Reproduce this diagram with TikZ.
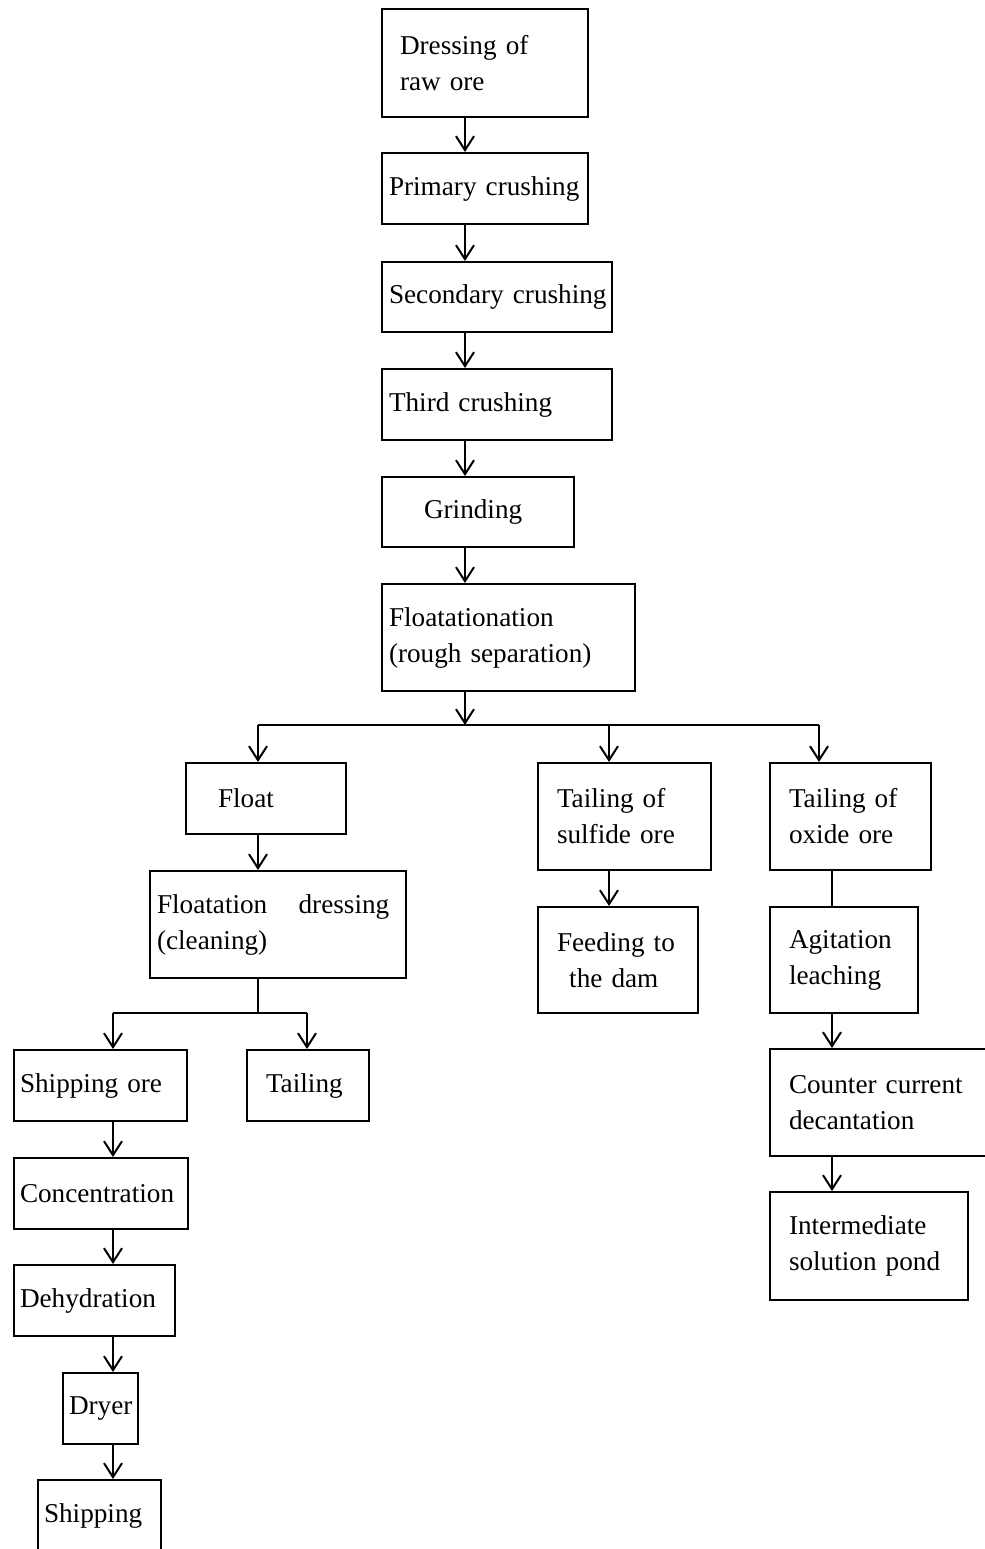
\documentclass[tikz,border=0pt]{standalone}
\usepackage{fontspec}
\setmainfont{Liberation Serif}
\usetikzlibrary{arrows.meta}
% process box: name, x0, y0, x1, y1, left padding, text
\newcommand\procbox[7]{%
  \pgfmathsetmacro\bxw{(#4-#2)*0.5}%
  \pgfmathsetmacro\bxh{(#5-#3)*0.5}%
  \pgfmathsetmacro\bxp{#6*0.5}%
  \pgfmathsetmacro\bxt{(#4-#2-2*#6)*0.5}%
  \node[box, minimum width=\bxw pt, minimum height=\bxh pt,
        inner xsep=\bxp pt, text width=\bxt pt] (#1) at (#2,#3) {#7};%
}
\begin{document}
\begin{tikzpicture}[x=0.5pt,y=-0.5pt,
  box/.style={draw, line width=1pt, rectangle, inner ysep=0pt, anchor=north west,
              font={\fontsize{13.6}{18}\selectfont\hyphenpenalty=10000\hbadness=10000\hfuzz=20pt},
              align=left},
  link/.style={line width=1pt},
  arr/.style={link, -{Straight Barb[length=7pt,width=9pt]}}]
\useasboundingbox (0,0) rectangle (985,1549);

% main line
\procbox{dress}{381}{8}{587}{116}{18}{Dressing of\\raw ore}
\procbox{prim}{381}{152}{587}{223}{7}{Primary~crushing}
\procbox{sec}{381}{261}{611}{331}{7}{Secondary~crushing}
\procbox{third}{381}{368}{611}{439}{7}{Third~crushing}
\procbox{grind}{381}{476}{573}{546}{42}{Grinding}
\procbox{rough}{381}{583}{634}{690}{7}{Floatationation\\(rough~separation)}

% float branch
\procbox{float}{185}{762}{345}{833}{32}{Float}
\procbox{clean}{149}{870}{405}{977}{7}{Floatation\hspace{1.15em}dressing\\(cleaning)}
\procbox{shipore}{13}{1049}{186}{1120}{6}{Shipping~ore}
\procbox{tailing}{246}{1049}{368}{1120}{19}{Tailing}
\procbox{conc}{13}{1157}{187}{1228}{6}{Concentration}
\procbox{dehyd}{13}{1264}{174}{1335}{6}{Dehydration}
\procbox{dryer}{62}{1372}{137}{1443}{6}{Dryer}
\procbox{ship}{37}{1479}{160}{1551}{6}{Shipping}

% sulfide branch
\procbox{sulf}{537}{762}{710}{869}{19}{Tailing~of\\sulfide~ore}
\procbox{dam}{537}{906}{697}{1012}{19}{Feeding~to\\\hspace*{0.45em}the~dam}

% oxide branch
\procbox{oxide}{769}{762}{930}{869}{19}{Tailing~of\\oxide~ore}
\procbox{agit}{769}{906}{917}{1012}{19}{Agitation\\leaching}
\procbox{ccd}{769}{1048}{992}{1155}{19}{Counter~current\\decantation}
\procbox{pond}{769}{1191}{967}{1299}{19}{Intermediate\\solution~pond}

% connector columns and junctions
\coordinate (cm) at (465,0);
\coordinate (cf) at (258,0);
\coordinate (cs) at (609,0);
\coordinate (co) at (819,0);
\coordinate (ca) at (832,0);
\coordinate (cl) at (113,0);
\coordinate (ct) at (307,0);
\coordinate (j1) at (465,725);
\coordinate (j2) at (258,1013);

\draw[arr] (dress.south -| cm) -- (prim.north -| cm);
\draw[arr] (prim.south -| cm) -- (sec.north -| cm);
\draw[arr] (sec.south -| cm) -- (third.north -| cm);
\draw[arr] (third.south -| cm) -- (grind.north -| cm);
\draw[arr] (grind.south -| cm) -- (rough.north -| cm);
\draw[arr] (rough.south -| cm) -- (j1);
\draw[link] (j1 -| cf) -- (j1 -| co);
\draw[arr] (j1 -| cf) -- (float.north -| cf);
\draw[arr] (j1 -| cs) -- (sulf.north -| cs);
\draw[arr] (j1 -| co) -- (oxide.north -| co);

\draw[arr] (float.south -| cf) -- (clean.north -| cf);
\draw[link] (clean.south -| cf) -- (j2);
\draw[link] (j2 -| cl) -- (j2 -| ct);
\draw[arr] (j2 -| cl) -- (shipore.north -| cl);
\draw[arr] (j2 -| ct) -- (tailing.north -| ct);
\draw[arr] (shipore.south -| cl) -- (conc.north -| cl);
\draw[arr] (conc.south -| cl) -- (dehyd.north -| cl);
\draw[arr] (dehyd.south -| cl) -- (dryer.north -| cl);
\draw[arr] (dryer.south -| cl) -- (ship.north -| cl);

\draw[arr] (sulf.south -| cs) -- (dam.north -| cs);

\draw[link] (oxide.south -| ca) -- (agit.north -| ca);
\draw[arr] (agit.south -| ca) -- (ccd.north -| ca);
\draw[arr] (ccd.south -| ca) -- (pond.north -| ca);
\end{tikzpicture}
\end{document}
